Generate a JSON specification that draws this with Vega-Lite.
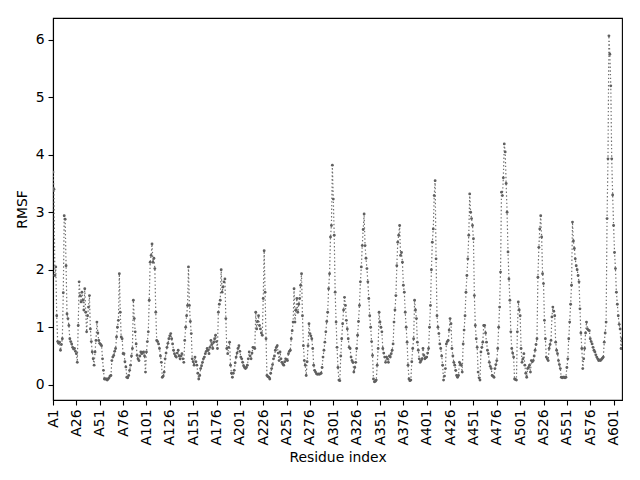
{
  "$schema": "https://vega.github.io/schema/vega-lite/v6.json",
  "description": "RMSF per residue",
  "autosize": {"type": "none"},
  "padding": {"left": 53, "top": 18, "right": 18, "bottom": 80},
  "width": 569,
  "height": 382,
  "data": {
    "values": [
      {"res":1,"rmsf":3.7},{"res":2,"rmsf":3.4},{"res":3,"rmsf":1.9},{"res":4,"rmsf":2.05},{"res":5,"rmsf":1.2},{"res":6,"rmsf":0.75},{"res":7,"rmsf":0.72},{"res":8,"rmsf":0.74},{"res":9,"rmsf":0.6},{"res":10,"rmsf":0.7},
      {"res":11,"rmsf":0.8},{"res":12,"rmsf":1.6},{"res":13,"rmsf":2.94},{"res":14,"rmsf":2.88},{"res":15,"rmsf":2.07},{"res":16,"rmsf":1.23},{"res":17,"rmsf":1.15},{"res":18,"rmsf":1.03},{"res":19,"rmsf":0.8},{"res":20,"rmsf":0.75},
      {"res":21,"rmsf":0.71},{"res":22,"rmsf":0.65},{"res":23,"rmsf":0.62},{"res":24,"rmsf":0.63},{"res":25,"rmsf":0.58},{"res":26,"rmsf":0.54},{"res":27,"rmsf":0.39},{"res":28,"rmsf":1.03},{"res":29,"rmsf":1.79},{"res":30,"rmsf":1.55},
      {"res":31,"rmsf":1.44},{"res":32,"rmsf":1.61},{"res":33,"rmsf":1.47},{"res":34,"rmsf":1.3},{"res":35,"rmsf":1.67},{"res":36,"rmsf":1.26},{"res":37,"rmsf":0.92},{"res":38,"rmsf":1.2},{"res":39,"rmsf":1.35},{"res":40,"rmsf":1.55},
      {"res":41,"rmsf":0.97},{"res":42,"rmsf":0.75},{"res":43,"rmsf":0.57},{"res":44,"rmsf":0.45},{"res":45,"rmsf":0.34},{"res":46,"rmsf":0.57},{"res":47,"rmsf":0.77},{"res":48,"rmsf":1.09},{"res":49,"rmsf":0.9},{"res":50,"rmsf":0.77},
      {"res":51,"rmsf":0.72},{"res":52,"rmsf":0.7},{"res":53,"rmsf":0.68},{"res":54,"rmsf":0.45},{"res":55,"rmsf":0.25},{"res":56,"rmsf":0.1},{"res":57,"rmsf":0.1},{"res":58,"rmsf":0.1},{"res":59,"rmsf":0.08},{"res":60,"rmsf":0.1},
      {"res":61,"rmsf":0.12},{"res":62,"rmsf":0.15},{"res":63,"rmsf":0.16},{"res":64,"rmsf":0.42},{"res":65,"rmsf":0.48},{"res":66,"rmsf":0.51},{"res":67,"rmsf":0.58},{"res":68,"rmsf":0.63},{"res":69,"rmsf":0.83},{"res":70,"rmsf":1.0},
      {"res":71,"rmsf":1.12},{"res":72,"rmsf":1.93},{"res":73,"rmsf":1.26},{"res":74,"rmsf":0.83},{"res":75,"rmsf":0.8},{"res":76,"rmsf":0.54},{"res":77,"rmsf":0.54},{"res":78,"rmsf":0.4},{"res":79,"rmsf":0.31},{"res":80,"rmsf":0.13},
      {"res":81,"rmsf":0.12},{"res":82,"rmsf":0.16},{"res":83,"rmsf":0.25},{"res":84,"rmsf":0.34},{"res":85,"rmsf":0.5},{"res":86,"rmsf":0.63},{"res":87,"rmsf":1.47},{"res":88,"rmsf":1.15},{"res":89,"rmsf":0.92},{"res":90,"rmsf":0.71},
      {"res":91,"rmsf":0.51},{"res":92,"rmsf":0.45},{"res":93,"rmsf":0.42},{"res":94,"rmsf":0.5},{"res":95,"rmsf":0.57},{"res":96,"rmsf":0.54},{"res":97,"rmsf":0.56},{"res":98,"rmsf":0.57},{"res":99,"rmsf":0.5},{"res":100,"rmsf":0.22},
      {"res":101,"rmsf":0.57},{"res":102,"rmsf":0.75},{"res":103,"rmsf":0.92},{"res":104,"rmsf":1.47},{"res":105,"rmsf":2.13},{"res":106,"rmsf":2.25},{"res":107,"rmsf":2.45},{"res":108,"rmsf":2.13},{"res":109,"rmsf":2.2},{"res":110,"rmsf":2.02},
      {"res":111,"rmsf":1.26},{"res":112,"rmsf":0.77},{"res":113,"rmsf":0.75},{"res":114,"rmsf":0.71},{"res":115,"rmsf":0.63},{"res":116,"rmsf":0.5},{"res":117,"rmsf":0.39},{"res":118,"rmsf":0.13},{"res":119,"rmsf":0.15},{"res":120,"rmsf":0.22},
      {"res":121,"rmsf":0.45},{"res":122,"rmsf":0.55},{"res":123,"rmsf":0.65},{"res":124,"rmsf":0.72},{"res":125,"rmsf":0.8},{"res":126,"rmsf":0.85},{"res":127,"rmsf":0.89},{"res":128,"rmsf":0.8},{"res":129,"rmsf":0.71},{"res":130,"rmsf":0.6},
      {"res":131,"rmsf":0.54},{"res":132,"rmsf":0.5},{"res":133,"rmsf":0.48},{"res":134,"rmsf":0.55},{"res":135,"rmsf":0.6},{"res":136,"rmsf":0.5},{"res":137,"rmsf":0.45},{"res":138,"rmsf":0.5},{"res":139,"rmsf":0.54},{"res":140,"rmsf":0.45},
      {"res":141,"rmsf":0.39},{"res":142,"rmsf":0.77},{"res":143,"rmsf":1.0},{"res":144,"rmsf":1.2},{"res":145,"rmsf":1.38},{"res":146,"rmsf":2.05},{"res":147,"rmsf":1.38},{"res":148,"rmsf":1.1},{"res":149,"rmsf":0.89},{"res":150,"rmsf":0.45},
      {"res":151,"rmsf":0.4},{"res":152,"rmsf":0.34},{"res":153,"rmsf":0.48},{"res":154,"rmsf":0.4},{"res":155,"rmsf":0.34},{"res":156,"rmsf":0.2},{"res":157,"rmsf":0.1},{"res":158,"rmsf":0.16},{"res":159,"rmsf":0.28},{"res":160,"rmsf":0.33},
      {"res":161,"rmsf":0.39},{"res":162,"rmsf":0.45},{"res":163,"rmsf":0.48},{"res":164,"rmsf":0.54},{"res":165,"rmsf":0.58},{"res":166,"rmsf":0.63},{"res":167,"rmsf":0.6},{"res":168,"rmsf":0.54},{"res":169,"rmsf":0.65},{"res":170,"rmsf":0.77},
      {"res":171,"rmsf":0.7},{"res":172,"rmsf":0.63},{"res":173,"rmsf":0.74},{"res":174,"rmsf":0.8},{"res":175,"rmsf":0.86},{"res":176,"rmsf":0.75},{"res":177,"rmsf":0.63},{"res":178,"rmsf":1.26},{"res":179,"rmsf":1.4},{"res":180,"rmsf":1.47},
      {"res":181,"rmsf":2.0},{"res":182,"rmsf":1.61},{"res":183,"rmsf":1.7},{"res":184,"rmsf":1.79},{"res":185,"rmsf":1.84},{"res":186,"rmsf":1.15},{"res":187,"rmsf":0.63},{"res":188,"rmsf":0.54},{"res":189,"rmsf":0.65},{"res":190,"rmsf":0.74},
      {"res":191,"rmsf":0.34},{"res":192,"rmsf":0.2},{"res":193,"rmsf":0.13},{"res":194,"rmsf":0.2},{"res":195,"rmsf":0.25},{"res":196,"rmsf":0.38},{"res":197,"rmsf":0.48},{"res":198,"rmsf":0.55},{"res":199,"rmsf":0.63},{"res":200,"rmsf":0.68},
      {"res":201,"rmsf":0.58},{"res":202,"rmsf":0.48},{"res":203,"rmsf":0.45},{"res":204,"rmsf":0.39},{"res":205,"rmsf":0.33},{"res":206,"rmsf":0.3},{"res":207,"rmsf":0.28},{"res":208,"rmsf":0.3},{"res":209,"rmsf":0.34},{"res":210,"rmsf":0.45},
      {"res":211,"rmsf":0.57},{"res":212,"rmsf":0.5},{"res":213,"rmsf":0.45},{"res":214,"rmsf":0.55},{"res":215,"rmsf":0.65},{"res":216,"rmsf":0.64},{"res":217,"rmsf":0.63},{"res":218,"rmsf":1.26},{"res":219,"rmsf":0.97},{"res":220,"rmsf":1.1},
      {"res":221,"rmsf":1.2},{"res":222,"rmsf":1.03},{"res":223,"rmsf":0.97},{"res":224,"rmsf":0.9},{"res":225,"rmsf":0.86},{"res":226,"rmsf":1.5},{"res":227,"rmsf":2.33},{"res":228,"rmsf":1.61},{"res":229,"rmsf":0.8},{"res":230,"rmsf":0.16},
      {"res":231,"rmsf":0.14},{"res":232,"rmsf":0.13},{"res":233,"rmsf":0.1},{"res":234,"rmsf":0.2},{"res":235,"rmsf":0.28},{"res":236,"rmsf":0.35},{"res":237,"rmsf":0.45},{"res":238,"rmsf":0.5},{"res":239,"rmsf":0.6},{"res":240,"rmsf":0.65},
      {"res":241,"rmsf":0.68},{"res":242,"rmsf":0.55},{"res":243,"rmsf":0.42},{"res":244,"rmsf":0.57},{"res":245,"rmsf":0.45},{"res":246,"rmsf":0.39},{"res":247,"rmsf":0.36},{"res":248,"rmsf":0.34},{"res":249,"rmsf":0.4},{"res":250,"rmsf":0.45},
      {"res":251,"rmsf":0.43},{"res":252,"rmsf":0.42},{"res":253,"rmsf":0.54},{"res":254,"rmsf":0.58},{"res":255,"rmsf":0.6},{"res":256,"rmsf":0.8},{"res":257,"rmsf":0.94},{"res":258,"rmsf":1.09},{"res":259,"rmsf":1.67},{"res":260,"rmsf":1.09},
      {"res":261,"rmsf":1.3},{"res":262,"rmsf":1.5},{"res":263,"rmsf":1.26},{"res":264,"rmsf":1.4},{"res":265,"rmsf":1.5},{"res":266,"rmsf":1.73},{"res":267,"rmsf":1.93},{"res":268,"rmsf":1.2},{"res":269,"rmsf":0.68},{"res":270,"rmsf":0.42},
      {"res":271,"rmsf":0.34},{"res":272,"rmsf":0.16},{"res":273,"rmsf":0.4},{"res":274,"rmsf":0.68},{"res":275,"rmsf":1.06},{"res":276,"rmsf":0.89},{"res":277,"rmsf":0.85},{"res":278,"rmsf":0.8},{"res":279,"rmsf":0.63},{"res":280,"rmsf":0.34},
      {"res":281,"rmsf":0.25},{"res":282,"rmsf":0.22},{"res":283,"rmsf":0.19},{"res":284,"rmsf":0.18},{"res":285,"rmsf":0.19},{"res":286,"rmsf":0.18},{"res":287,"rmsf":0.19},{"res":288,"rmsf":0.2},{"res":289,"rmsf":0.3},{"res":290,"rmsf":0.48},
      {"res":291,"rmsf":0.6},{"res":292,"rmsf":0.74},{"res":293,"rmsf":0.92},{"res":294,"rmsf":1.1},{"res":295,"rmsf":1.26},{"res":296,"rmsf":1.67},{"res":297,"rmsf":1.93},{"res":298,"rmsf":2.57},{"res":299,"rmsf":2.77},{"res":300,"rmsf":3.82},
      {"res":301,"rmsf":3.23},{"res":302,"rmsf":2.6},{"res":303,"rmsf":1.61},{"res":304,"rmsf":1.09},{"res":305,"rmsf":0.65},{"res":306,"rmsf":0.3},{"res":307,"rmsf":0.08},{"res":308,"rmsf":0.07},{"res":309,"rmsf":0.5},{"res":310,"rmsf":0.8},
      {"res":311,"rmsf":1.06},{"res":312,"rmsf":1.3},{"res":313,"rmsf":1.52},{"res":314,"rmsf":1.38},{"res":315,"rmsf":1.12},{"res":316,"rmsf":0.97},{"res":317,"rmsf":0.8},{"res":318,"rmsf":0.65},{"res":319,"rmsf":0.63},{"res":320,"rmsf":0.48},
      {"res":321,"rmsf":0.42},{"res":322,"rmsf":0.39},{"res":323,"rmsf":0.22},{"res":324,"rmsf":0.3},{"res":325,"rmsf":0.39},{"res":326,"rmsf":0.63},{"res":327,"rmsf":0.86},{"res":328,"rmsf":1.1},{"res":329,"rmsf":1.38},{"res":330,"rmsf":1.79},
      {"res":331,"rmsf":2.05},{"res":332,"rmsf":2.42},{"res":333,"rmsf":2.7},{"res":334,"rmsf":2.97},{"res":335,"rmsf":2.42},{"res":336,"rmsf":2.2},{"res":337,"rmsf":2.02},{"res":338,"rmsf":1.79},{"res":339,"rmsf":1.5},{"res":340,"rmsf":1.2},
      {"res":341,"rmsf":1.0},{"res":342,"rmsf":0.75},{"res":343,"rmsf":0.51},{"res":344,"rmsf":0.1},{"res":345,"rmsf":0.05},{"res":346,"rmsf":0.06},{"res":347,"rmsf":0.08},{"res":348,"rmsf":0.34},{"res":349,"rmsf":0.63},{"res":350,"rmsf":1.26},
      {"res":351,"rmsf":1.09},{"res":352,"rmsf":1.0},{"res":353,"rmsf":0.92},{"res":354,"rmsf":0.63},{"res":355,"rmsf":0.55},{"res":356,"rmsf":0.48},{"res":357,"rmsf":0.39},{"res":358,"rmsf":0.48},{"res":359,"rmsf":0.45},{"res":360,"rmsf":0.39},
      {"res":361,"rmsf":0.5},{"res":362,"rmsf":0.48},{"res":363,"rmsf":0.54},{"res":364,"rmsf":0.6},{"res":365,"rmsf":0.71},{"res":366,"rmsf":1.09},{"res":367,"rmsf":1.3},{"res":368,"rmsf":1.55},{"res":369,"rmsf":2.07},{"res":370,"rmsf":2.48},
      {"res":371,"rmsf":2.6},{"res":372,"rmsf":2.77},{"res":373,"rmsf":2.25},{"res":374,"rmsf":2.3},{"res":375,"rmsf":2.13},{"res":376,"rmsf":1.73},{"res":377,"rmsf":1.61},{"res":378,"rmsf":1.26},{"res":379,"rmsf":1.0},{"res":380,"rmsf":0.74},
      {"res":381,"rmsf":0.34},{"res":382,"rmsf":0.1},{"res":383,"rmsf":0.07},{"res":384,"rmsf":0.08},{"res":385,"rmsf":0.4},{"res":386,"rmsf":0.63},{"res":387,"rmsf":0.8},{"res":388,"rmsf":1.47},{"res":389,"rmsf":1.3},{"res":390,"rmsf":1.15},
      {"res":391,"rmsf":0.74},{"res":392,"rmsf":0.6},{"res":393,"rmsf":0.45},{"res":394,"rmsf":0.39},{"res":395,"rmsf":0.42},{"res":396,"rmsf":0.45},{"res":397,"rmsf":0.63},{"res":398,"rmsf":0.51},{"res":399,"rmsf":0.45},{"res":400,"rmsf":0.47},
      {"res":401,"rmsf":0.48},{"res":402,"rmsf":0.55},{"res":403,"rmsf":0.63},{"res":404,"rmsf":1.0},{"res":405,"rmsf":1.38},{"res":406,"rmsf":2.0},{"res":407,"rmsf":2.48},{"res":408,"rmsf":2.71},{"res":409,"rmsf":3.29},{"res":410,"rmsf":3.55},
      {"res":411,"rmsf":2.19},{"res":412,"rmsf":1.2},{"res":413,"rmsf":1.0},{"res":414,"rmsf":0.89},{"res":415,"rmsf":0.71},{"res":416,"rmsf":0.63},{"res":417,"rmsf":0.5},{"res":418,"rmsf":0.34},{"res":419,"rmsf":0.08},{"res":420,"rmsf":0.15},
      {"res":421,"rmsf":0.28},{"res":422,"rmsf":0.71},{"res":423,"rmsf":0.75},{"res":424,"rmsf":0.77},{"res":425,"rmsf":0.95},{"res":426,"rmsf":1.15},{"res":427,"rmsf":1.06},{"res":428,"rmsf":0.63},{"res":429,"rmsf":0.5},{"res":430,"rmsf":0.39},
      {"res":431,"rmsf":0.34},{"res":432,"rmsf":0.25},{"res":433,"rmsf":0.16},{"res":434,"rmsf":0.13},{"res":435,"rmsf":0.16},{"res":436,"rmsf":0.39},{"res":437,"rmsf":0.36},{"res":438,"rmsf":0.34},{"res":439,"rmsf":0.22},{"res":440,"rmsf":0.71},
      {"res":441,"rmsf":0.95},{"res":442,"rmsf":1.2},{"res":443,"rmsf":1.61},{"res":444,"rmsf":1.9},{"res":445,"rmsf":2.19},{"res":446,"rmsf":2.6},{"res":447,"rmsf":3.32},{"res":448,"rmsf":3.0},{"res":449,"rmsf":2.89},{"res":450,"rmsf":2.77},
      {"res":451,"rmsf":2.54},{"res":452,"rmsf":1.55},{"res":453,"rmsf":1.03},{"res":454,"rmsf":0.8},{"res":455,"rmsf":0.65},{"res":456,"rmsf":0.22},{"res":457,"rmsf":0.12},{"res":458,"rmsf":0.08},{"res":459,"rmsf":0.57},{"res":460,"rmsf":0.65},
      {"res":461,"rmsf":0.74},{"res":462,"rmsf":1.03},{"res":463,"rmsf":1.03},{"res":464,"rmsf":0.9},{"res":465,"rmsf":0.74},{"res":466,"rmsf":0.6},{"res":467,"rmsf":0.54},{"res":468,"rmsf":0.39},{"res":469,"rmsf":0.32},{"res":470,"rmsf":0.28},
      {"res":471,"rmsf":0.16},{"res":472,"rmsf":0.15},{"res":473,"rmsf":0.13},{"res":474,"rmsf":0.28},{"res":475,"rmsf":0.35},{"res":476,"rmsf":0.42},{"res":477,"rmsf":0.63},{"res":478,"rmsf":1.0},{"res":479,"rmsf":1.35},{"res":480,"rmsf":1.96},
      {"res":481,"rmsf":3.35},{"res":482,"rmsf":3.29},{"res":483,"rmsf":3.6},{"res":484,"rmsf":4.19},{"res":485,"rmsf":4.05},{"res":486,"rmsf":3.5},{"res":487,"rmsf":3.0},{"res":488,"rmsf":2.31},{"res":489,"rmsf":1.84},{"res":490,"rmsf":1.47},
      {"res":491,"rmsf":0.92},{"res":492,"rmsf":0.63},{"res":493,"rmsf":0.55},{"res":494,"rmsf":0.48},{"res":495,"rmsf":0.1},{"res":496,"rmsf":0.09},{"res":497,"rmsf":0.08},{"res":498,"rmsf":0.92},{"res":499,"rmsf":1.44},{"res":500,"rmsf":1.3},
      {"res":501,"rmsf":1.2},{"res":502,"rmsf":0.63},{"res":503,"rmsf":0.39},{"res":504,"rmsf":0.45},{"res":505,"rmsf":0.54},{"res":506,"rmsf":0.34},{"res":507,"rmsf":0.2},{"res":508,"rmsf":0.13},{"res":509,"rmsf":0.28},{"res":510,"rmsf":0.3},
      {"res":511,"rmsf":0.34},{"res":512,"rmsf":0.22},{"res":513,"rmsf":0.42},{"res":514,"rmsf":0.4},{"res":515,"rmsf":0.42},{"res":516,"rmsf":0.5},{"res":517,"rmsf":0.6},{"res":518,"rmsf":0.7},{"res":519,"rmsf":0.8},{"res":520,"rmsf":1.87},
      {"res":521,"rmsf":2.39},{"res":522,"rmsf":2.71},{"res":523,"rmsf":2.94},{"res":524,"rmsf":2.57},{"res":525,"rmsf":1.93},{"res":526,"rmsf":1.76},{"res":527,"rmsf":1.12},{"res":528,"rmsf":0.8},{"res":529,"rmsf":0.48},{"res":530,"rmsf":0.45},
      {"res":531,"rmsf":0.42},{"res":532,"rmsf":0.63},{"res":533,"rmsf":0.7},{"res":534,"rmsf":0.77},{"res":535,"rmsf":1.18},{"res":536,"rmsf":1.35},{"res":537,"rmsf":1.28},{"res":538,"rmsf":1.2},{"res":539,"rmsf":0.74},{"res":540,"rmsf":0.6},
      {"res":541,"rmsf":0.54},{"res":542,"rmsf":0.42},{"res":543,"rmsf":0.35},{"res":544,"rmsf":0.28},{"res":545,"rmsf":0.13},{"res":546,"rmsf":0.12},{"res":547,"rmsf":0.13},{"res":548,"rmsf":0.13},{"res":549,"rmsf":0.12},{"res":550,"rmsf":0.13},
      {"res":551,"rmsf":0.3},{"res":552,"rmsf":0.45},{"res":553,"rmsf":0.8},{"res":554,"rmsf":1.09},{"res":555,"rmsf":1.4},{"res":556,"rmsf":1.73},{"res":557,"rmsf":2.83},{"res":558,"rmsf":2.5},{"res":559,"rmsf":2.37},{"res":560,"rmsf":2.19},
      {"res":561,"rmsf":2.07},{"res":562,"rmsf":2.0},{"res":563,"rmsf":1.9},{"res":564,"rmsf":1.79},{"res":565,"rmsf":1.32},{"res":566,"rmsf":0.9},{"res":567,"rmsf":0.63},{"res":568,"rmsf":0.28},{"res":569,"rmsf":0.45},{"res":570,"rmsf":0.63},
      {"res":571,"rmsf":0.9},{"res":572,"rmsf":1.09},{"res":573,"rmsf":0.97},{"res":574,"rmsf":0.95},{"res":575,"rmsf":0.94},{"res":576,"rmsf":0.8},{"res":577,"rmsf":0.75},{"res":578,"rmsf":0.71},{"res":579,"rmsf":0.65},{"res":580,"rmsf":0.6},
      {"res":581,"rmsf":0.57},{"res":582,"rmsf":0.52},{"res":583,"rmsf":0.48},{"res":584,"rmsf":0.45},{"res":585,"rmsf":0.42},{"res":586,"rmsf":0.43},{"res":587,"rmsf":0.42},{"res":588,"rmsf":0.44},{"res":589,"rmsf":0.46},{"res":590,"rmsf":0.48},
      {"res":591,"rmsf":0.74},{"res":592,"rmsf":0.9},{"res":593,"rmsf":1.09},{"res":594,"rmsf":2.89},{"res":595,"rmsf":3.93},{"res":596,"rmsf":6.07},{"res":597,"rmsf":5.75},{"res":598,"rmsf":5.2},{"res":599,"rmsf":3.93},{"res":600,"rmsf":3.3},
      {"res":601,"rmsf":2.77},{"res":602,"rmsf":2.3},{"res":603,"rmsf":2.02},{"res":604,"rmsf":1.61},{"res":605,"rmsf":1.4},{"res":606,"rmsf":1.2},{"res":607,"rmsf":1.05},{"res":608,"rmsf":0.97},{"res":609,"rmsf":0.63},{"res":610,"rmsf":0.8}
    ]
  },
  "mark": {
    "type": "line",
    "color": "#707070",
    "strokeWidth": 1.2,
    "strokeDash": [1.4, 2.3],
    "clip": true,
    "point": {"filled": true, "size": 8, "color": "#5f5f5f"}
  },
  "encoding": {
    "x": {
      "field": "res",
      "type": "quantitative",
      "scale": {"domain": [1, 610], "nice": false, "zero": false},
      "axis": {
        "title": "Residue index",
        "values": [1, 26, 51, 76, 101, 126, 151, 176, 201, 226, 251, 276, 301, 326, 351, 376, 401, 426, 451, 476, 501, 526, 551, 576, 601],
        "labelExpr": "'A' + datum.value",
        "labelAngle": -90,
        "labelAlign": "right",
        "labelBaseline": "middle",
        "titlePadding": 5
      }
    },
    "y": {
      "field": "rmsf",
      "type": "quantitative",
      "scale": {"domain": [-0.266, 6.38], "nice": false, "zero": false},
      "axis": {
        "title": "RMSF",
        "values": [0, 1, 2, 3, 4, 5, 6],
        "format": "d",
        "titlePadding": 6
      }
    }
  },
  "config": {
    "font": "DejaVu Sans",
    "view": {"stroke": "black", "strokeWidth": 1.1},
    "axis": {
      "grid": false,
      "domainColor": "black",
      "domainWidth": 1.1,
      "tickColor": "black",
      "tickWidth": 1.1,
      "tickSize": 5,
      "labelFont": "DejaVu Sans",
      "labelFontSize": 13.9,
      "labelColor": "black",
      "labelPadding": 4,
      "labelFlush": false,
      "labelOverlap": false,
      "titleFont": "DejaVu Sans",
      "titleFontSize": 13.9,
      "titleFontWeight": "normal",
      "titleColor": "black"
    }
  }
}
